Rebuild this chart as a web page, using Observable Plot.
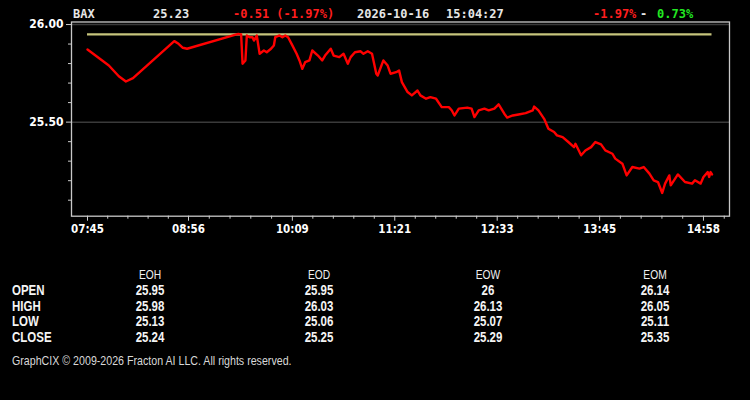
<!DOCTYPE html>
<html>
<head>
<meta charset="utf-8">
<script src="https://cdn.jsdelivr.net/npm/d3@7"></script>
<script src="https://cdn.jsdelivr.net/npm/@observablehq/plot@0.6"></script>
<style>
  html, body { margin: 0; padding: 0; background: #000; }
  #wrap { position: relative; width: 750px; height: 400px; background: #000; overflow: hidden; }
  #wrap svg { position: absolute; left: 0; top: 0; }
</style>
</head>
<body>
<div id="wrap"></div>
<script>
// ---- data ----
const symbol = "BAX";
const lastPrice = "25.23";
const change = "-0.51 (-1.97%)";
const dateStr = "2026-10-16";
const timeStr = "15:04:27";
const rangeLow = "-1.97%";
const rangeHigh = "0.73%";
const openLevel = 25.95;

const times = ["07:45","08:00","08:07","08:12","08:17","08:46","08:49","08:52","08:55","09:31","09:33","09:34","09:36",
"09:37","09:39","09:41","09:42","09:44","09:46","09:49","09:51","09:54","09:56",
"09:57","10:00","10:02","10:04","10:06","10:09","10:12","10:14","10:16","10:18",
"10:21","10:23","10:27","10:30","10:32","10:36","10:38","10:42","10:45","10:48",
"10:50","10:53","10:57","10:59","11:02","11:05","11:08","11:09","11:13","11:16",
"11:18","11:22","11:24","11:26","11:30","11:33","11:37","11:39","11:43","11:46",
"11:50","11:54","11:59","12:01","12:03","12:06","12:12","12:15","12:17","12:20",
"12:24","12:27","12:31","12:34","12:38","12:40","12:44","12:48","12:53","12:58",
"12:59","13:02","13:06","13:09","13:13","13:15","13:19","13:23","13:27","13:28",
"13:32","13:35","13:39","13:42","13:46","13:49","13:54","13:56","14:01","14:04",
"14:08","14:13","14:16","14:20","14:23","14:26","14:29","14:31","14:34","14:35",
"14:40","14:45","14:50","14:52","14:56","14:58","15:01","15:02","15:03","15:04"];

const prices = [25.872,25.790,25.735,25.708,25.725,25.915,25.901,25.881,25.876,25.952,25.949,25.799,25.816,
25.944,25.935,25.935,25.918,25.944,25.850,25.867,25.858,25.876,25.893,
25.935,25.944,25.935,25.944,25.935,25.893,25.850,25.816,25.773,25.807,
25.816,25.867,25.841,25.816,25.841,25.876,25.841,25.833,25.850,25.799,
25.833,25.858,25.863,25.850,25.863,25.850,25.748,25.739,25.816,25.790,
25.748,25.756,25.765,25.705,25.654,25.637,25.662,25.637,25.620,25.628,
25.620,25.577,25.577,25.561,25.534,25.569,25.574,25.569,25.526,25.560,
25.569,25.560,25.569,25.591,25.543,25.523,25.534,25.539,25.546,25.560,
25.580,25.560,25.517,25.466,25.449,25.432,25.423,25.398,25.372,25.389,
25.330,25.355,25.372,25.398,25.386,25.355,25.338,25.313,25.287,25.227,
25.270,25.262,25.270,25.236,25.202,25.193,25.137,25.185,25.227,25.176,
25.232,25.193,25.185,25.202,25.185,25.219,25.244,25.219,25.244,25.232];

const xTickLabels = ["07:45","08:56","10:09","11:21","12:33","13:45","14:58"];
const yTicksMajor = [25.5, 26.0];
const yTicksMinor = [25.1, 25.2, 25.3, 25.4, 25.6, 25.7, 25.8, 25.9];

const tableCols = ["EOH","EOD","EOW","EOM"];
const tableRows = ["OPEN","HIGH","LOW","CLOSE"];
const eoh = [25.95, 25.98, 25.13, 25.24];
const eod = [25.95, 26.03, 25.06, 25.25];
const eow = [26, 26.13, 25.07, 25.29];
const eom = [26.14, 26.05, 25.11, 25.35];
const copyright = "GraphCIX \u00A9 2009-2026 Fracton AI LLC. All rights reserved.";

// ---- helpers ----
const toMin = s => { const [h, m] = s.split(":").map(Number); return h * 60 + m; };
const fmtMin = v => { const h = Math.floor(v / 60), m = Math.round(v - h * 60); return String(h).padStart(2, "0") + ":" + String(m).padStart(2, "0"); };

const series = times.map((t, i) => ({t: toMin(t), p: prices[i]}));
const majorX = xTickLabels.map(toMin);
const minorX = [];
for (let i = 0; i < majorX.length - 1; i++) {
  const step = (majorX[i + 1] - majorX[i]) / 5;
  for (let k = 1; k < 5; k++) minorX.push(majorX[i] + k * step);
}
minorX.push(majorX[majorX.length - 1] + (majorX[majorX.length - 1] - majorX[majorX.length - 2]) / 5);

const t0 = series[0].t, t1 = series[series.length - 1].t;
const axisFont = "'DejaVu Sans Condensed', 'DejaVu Sans', sans-serif";

const chart = Plot.plot({
  width: 750,
  height: 245,
  marginTop: 21.5,
  marginBottom: 29.3,
  marginLeft: 71,
  marginRight: 21,
  style: {background: "transparent", color: "#dcdcdc", fontFamily: axisFont, overflow: "visible"},
  x: {type: "linear", domain: [453.75, 916.3], axis: null},
  y: {domain: [25.018, 26.013], axis: null},
  marks: [
    Plot.ruleY(yTicksMajor, {stroke: "#3a3a3a", strokeWidth: 1.5}),
    Plot.frame({stroke: "#c8c8c8", strokeWidth: 1.3}),
    Plot.ruleY([openLevel], {x1: t0, x2: t1, stroke: "#c6c47c", strokeWidth: 2.2}),
    Plot.line(series, {x: "t", y: "p", stroke: "#ff0000", strokeWidth: 2.4, strokeLinejoin: "round"}),
    Plot.axisY(yTicksMajor, {label: null, tickSize: 5, tickPadding: 3, tickFormat: d3.format(".2f"), fontSize: 12, fontWeight: "bold", fill: "#ffffff", stroke: "#cccccc"}),
    Plot.axisY(yTicksMinor, {label: null, tickSize: 3, tickFormat: () => "", stroke: "#cccccc"}),
    Plot.axisX(majorX, {label: null, tickSize: 5, tickPadding: 4, tickFormat: fmtMin, fontSize: 11.5, fontWeight: "bold", fill: "#ffffff", stroke: "#cccccc"}),
    Plot.axisX(minorX, {label: null, tickSize: 3, tickFormat: () => "", stroke: "#cccccc"})
  ]
});
document.getElementById("wrap").appendChild(chart);

// ---- header and table overlay ----
const ov = d3.select("#wrap").append("svg").attr("width", 750).attr("height", 400).style("pointer-events", "none");
const mono = "'DejaVu Sans Mono', monospace";
const header = [
  {x: 73, text: symbol, fill: "#e6e6e6"},
  {x: 153, text: lastPrice, fill: "#e6e6e6"},
  {x: 233, text: change, fill: "#ff1e1e"},
  {x: 357, text: dateStr, fill: "#e6e6e6"},
  {x: 446, text: timeStr, fill: "#e6e6e6"},
  {x: 593, text: rangeLow, fill: "#ff1e1e"},
  {x: 640, text: "-", fill: "#e6e6e6"},
  {x: 657, text: rangeHigh, fill: "#22e822"}
];
ov.selectAll("text.h").data(header).join("text")
  .attr("class", "h").attr("x", d => d.x).attr("y", 18)
  .attr("font-family", mono).attr("font-weight", "bold").attr("font-size", 12)
  .attr("fill", d => d.fill).text(d => d.text);

// narrow sans: Liberation Sans squeezed horizontally
const tableFont = "'Liberation Sans', Arial, sans-serif";
const narrow = 0.82;
const place = (x, y) => `translate(${x},${y}) scale(${narrow},1)`;
const colX = [150, 319, 488, 655];
const rowY = [295, 310.5, 326, 341.5];
const cols = [eoh, eod, eow, eom];
ov.selectAll("text.c").data(tableCols).join("text")
  .attr("class", "c").attr("transform", (d, i) => place(colX[i], 278.5))
  .attr("text-anchor", "middle").attr("font-family", tableFont).attr("font-size", 12.5)
  .attr("fill", "#f0f0f0").text(d => d);
ov.selectAll("text.r").data(tableRows).join("text")
  .attr("class", "r").attr("transform", (d, i) => place(12, rowY[i]))
  .attr("font-family", tableFont).attr("font-size", 14).attr("font-weight", "bold")
  .attr("fill", "#f4f4f4").text(d => d);
cols.forEach((col, ci) => {
  ov.selectAll("text.v" + ci).data(col).join("text")
    .attr("class", "v" + ci).attr("transform", (d, i) => place(colX[ci], rowY[i]))
    .attr("text-anchor", "middle").attr("font-family", tableFont).attr("font-size", 14).attr("font-weight", "bold")
    .attr("fill", "#f4f4f4").text(d => String(d));
});
ov.append("text").attr("transform", place(12, 364.5))
  .attr("font-family", tableFont).attr("font-size", 13)
  .attr("fill", "#d8d8d8").text(copyright);
</script>
</body>
</html>
